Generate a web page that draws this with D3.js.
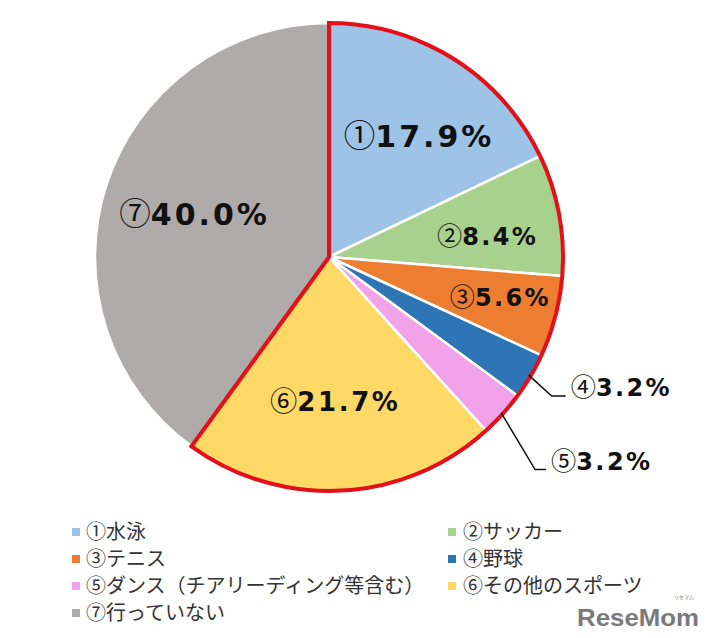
<!DOCTYPE html>
<html>
<head>
<meta charset="utf-8">
<script src="https://cdn.jsdelivr.net/npm/d3@7"></script>
<style>
  body { margin: 0; background: #fff; }
  svg { display: block; }
</style>
</head>
<body>
<svg width="713" height="638"></svg>
<script>
// data
var marks = ["①", "②", "③", "④", "⑤", "⑥", "⑦"];
var categories = ["水泳", "サッカー", "テニス", "野球", "ダンス（チアリーディング等含む）", "その他のスポーツ", "行っていない"];
var values = [17.9, 8.4, 5.6, 3.2, 3.2, 21.7, 40.0];
var colors = ["#9DC3E6", "#A9D18E", "#ED7D31", "#2E75B6", "#F2A2E8", "#FFD966", "#AFABAB"];

// layout
var cx = 329, cy = 257, radius = 234;
var outlined = 6; // first six slices get the red border
// label radius, angle nudge (deg), font size; null = outside label with leader
var labelLayout = [
    { r: 151, da: 4.4, size: 30 },
    { r: 160, da: 3, size: 24 },
    { r: 176, da: -1.6, size: 24 },
    null,
    null,
    { r: 145, da: 0.6, size: 26 },
    { r: 141, da: -0.4, size: 30 }
];
var leaderLayout = { 3: { ex: 23, ey: 21, len: 14 }, 4: { ex: 34, ey: 57, len: 11 } };

var svg = d3.select("svg");

var pie = d3.pie().sort(null).value(function (d) { return d; });
var arcs = pie(values);

var arc = d3.arc().innerRadius(0).outerRadius(radius);

var g = svg.append("g").attr("transform", "translate(" + cx + "," + cy + ")");

g.selectAll("path.slice")
    .data(arcs)
    .enter().append("path")
    .attr("class", "slice")
    .attr("d", arc)
    .attr("fill", function (d, i) { return colors[i]; })
    .attr("stroke", "#fff")
    .attr("stroke-width", 2.5)
    .attr("stroke-linejoin", "round");

// red border around slices 1-6
g.append("path")
    .attr("d", arc({ startAngle: arcs[0].startAngle, endAngle: arcs[outlined - 1].endAngle }))
    .attr("fill", "none")
    .attr("stroke", "#E3101A")
    .attr("stroke-width", 4)
    .attr("stroke-linejoin", "miter");

function polar(r, a) {
    return [r * Math.sin(a), -r * Math.cos(a)];
}

function addLabel(sel, i, size) {
    sel.append("tspan")
        .attr("font-family", "'Noto Sans CJK JP', sans-serif")
        .attr("font-weight", 400)
        .attr("font-size", size * 1.05)
        .text(marks[i]);
    sel.append("tspan")
        .attr("font-family", "'DejaVu Sans', Verdana, sans-serif")
        .attr("font-weight", "bold")
        .attr("letter-spacing", size * 0.1)
        .text(values[i].toFixed(1) + "%");
}

arcs.forEach(function (d, i) {
    var mid = (d.startAngle + d.endAngle) / 2;
    var lay = labelLayout[i];
    if (lay) {
        var p = polar(lay.r, mid + lay.da * Math.PI / 180);
        var t = g.append("text")
            .attr("x", p[0])
            .attr("y", p[1] + lay.size * 0.36)
            .attr("text-anchor", "middle")
            .attr("font-size", lay.size)
            .attr("fill", "#111");
        addLabel(t, i, lay.size);
    } else {
        var ld = leaderLayout[i];
        var s = polar(radius - 2, mid);
        var e = [s[0] + ld.ex, s[1] + ld.ey];
        var f = [e[0] + ld.len, e[1]];
        g.append("polyline")
            .attr("points", [s, e, f].map(function (q) { return q.join(","); }).join(" "))
            .attr("fill", "none")
            .attr("stroke", "#111")
            .attr("stroke-width", 1.5);
        var t2 = g.append("text")
            .attr("x", f[0] + 5)
            .attr("y", f[1])
            .attr("font-size", 24)
            .attr("fill", "#111");
        addLabel(t2, i, 24);
    }
});

// legend
var legendX = [72, 448], legendTextX = [86, 463];
var legendY0 = 532, legendStep = 27;

var legend = svg.append("g").selectAll("g")
    .data(categories)
    .enter().append("g")
    .attr("transform", function (d, i) {
        return "translate(0," + (legendY0 + Math.floor(i / 2) * legendStep) + ")";
    });

legend.append("rect")
    .attr("x", function (d, i) { return legendX[i % 2]; })
    .attr("y", -4)
    .attr("width", 8)
    .attr("height", 8)
    .attr("fill", function (d, i) { return colors[i]; });

legend.append("text")
    .attr("x", function (d, i) { return legendTextX[i % 2]; })
    .attr("y", 7)
    .attr("font-family", "'Noto Sans CJK JP', sans-serif")
    .attr("font-size", 20)
    .attr("fill", "#333")
    .text(function (d, i) { return marks[i] + d; });

// watermark
svg.append("text")
    .attr("x", 577)
    .attr("y", 626)
    .attr("font-family", "'Liberation Sans Narrow', 'Liberation Sans', sans-serif")
    .attr("font-weight", "bold")
    .attr("font-size", 24)
    .attr("textLength", 122)
    .attr("lengthAdjust", "spacingAndGlyphs")
    .attr("fill", "#7a7a7a")
    .text("ReseMom");
svg.append("text")
    .attr("x", 684)
    .attr("y", 599)
    .attr("text-anchor", "middle")
    .attr("font-family", "'Noto Sans CJK JP', sans-serif")
    .attr("font-size", 5)
    .attr("fill", "#7a7a7a")
    .text("リセマム");
</script>
</body>
</html>
